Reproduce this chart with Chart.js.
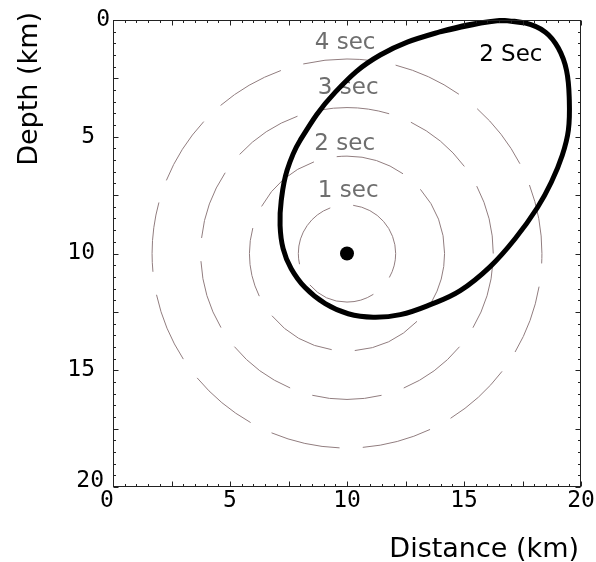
<!DOCTYPE html>
<html lang="en">
<head>
<meta charset="UTF-8">
<title>Travel time circles</title>
<script src="https://cdn.jsdelivr.net/npm/chart.js"></script>
<style>
  body { margin: 0; background: #fff; }
  canvas { display: block; }
</style>
</head>
<body>
<canvas id="myChart" width="596" height="562"></canvas>
<script>
// source location (km)
const sourceX = [10];
const sourceDepth = [10];

// travel time circles around the source, radius in km
const circleRadius = [2.08, 4.17, 6.25, 8.33];
const circleLabel = ['1 sec', '2 sec', '3 sec', '4 sec'];
const circleLabelX = [10.05, 9.9, 10.05, 9.92];
const circleLabelDepth = [7.32, 5.3, 2.92, 1.0];

// 2 second contour, traced clockwise from the top
const contourX = [16.42, 17.62, 18.48, 19.03, 19.38, 19.50, 19.46, 19.20, 18.73, 18.14, 17.19, 16.12, 14.84, 13.56,
                  12.28, 11.12, 10.05, 9.07, 8.21, 7.61, 7.27, 7.14, 7.19, 7.44, 8.00, 9.50, 11.42, 13.99];
const contourDepth = [0.03, 0.13, 0.52, 1.20, 2.15, 3.43, 4.72, 5.79, 6.95, 8.03, 9.36, 10.56, 11.59, 12.19,
                      12.62, 12.73, 12.58, 12.15, 11.46, 10.64, 9.79, 8.80, 7.73, 6.44, 5.15, 3.09, 1.50, 0.50];
const contourLabel = ['2 Sec'];
const contourLabelX = [17.0];
const contourLabelDepth = [1.5];

// axis ticks
const xTicks = [0, 5, 10, 15, 20];
const yTicks = [0, 5, 10, 15, 20];
const xTitle = 'Distance (km)';
const yTitle = 'Depth (km)';

// closed curve: wrap the ends so the spline joins smoothly
function closedLoop(xs, ys) {
    const pts = xs.map((v, i) => ({ x: v, y: ys[i] }));
    const n = pts.length;
    return [pts[n - 1], ...pts, pts[0], pts[1]];
}

const MONO = '23px "DejaVu Sans Mono"';
const SANS = '"DejaVu Sans"';

const axesPlugin = {
    id: 'axesPlugin',
    beforeDatasetsDraw(chart) {
        const { ctx, scales: { x, y } } = chart;
        const cx = x.getPixelForValue(sourceX[0]);
        const cy = y.getPixelForValue(sourceDepth[0]);
        const kx = x.getPixelForValue(1) - x.getPixelForValue(0);
        const ky = y.getPixelForValue(1) - y.getPixelForValue(0);

        ctx.save();
        // dashed circles
        ctx.strokeStyle = 'rgb(145,125,127)';
        ctx.lineWidth = 1;
        ctx.setLineDash([70, 23.3]);
        circleRadius.forEach(r => {
            ctx.beginPath();
            ctx.ellipse(cx, cy, r * kx, r * ky, 0, 0, -2 * Math.PI, true);
            ctx.stroke();
        });
        ctx.setLineDash([]);

        // circle labels
        ctx.font = '23px ' + SANS;
        ctx.fillStyle = '#6e6e6e';
        ctx.textAlign = 'center';
        ctx.textBaseline = 'middle';
        circleLabel.forEach((t, i) => {
            ctx.fillText(t, x.getPixelForValue(circleLabelX[i]), y.getPixelForValue(circleLabelDepth[i]));
        });
        ctx.fillStyle = '#000';
        contourLabel.forEach((t, i) => {
            ctx.fillText(t, x.getPixelForValue(contourLabelX[i]), y.getPixelForValue(contourLabelDepth[i]));
        });
        ctx.restore();
    },
    afterDraw(chart) {
        const { ctx, chartArea: a, scales: { x, y } } = chart;
        const L = Math.round(a.left) + 0.5, R = Math.round(a.right) - 0.5;
        const T = Math.round(a.top) + 0.5, B = Math.round(a.bottom) - 0.5;

        ctx.save();
        ctx.strokeStyle = '#222';
        ctx.lineWidth = 1;
        ctx.strokeRect(L, T, R - L, B - T);

        // inward ticks on all four sides, every 0.5 km, longer every 2.5 km
        ctx.beginPath();
        for (let v = 0; v <= 20; v += 0.5) {
            const len = (v % 2.5 === 0) ? 5 : 2.5;
            const px = Math.round(x.getPixelForValue(v)) + 0.5;
            const py = Math.round(y.getPixelForValue(v)) + 0.5;
            ctx.moveTo(px, B); ctx.lineTo(px, B - len);
            ctx.moveTo(px, T); ctx.lineTo(px, T + len);
            ctx.moveTo(L, py); ctx.lineTo(L + len, py);
            ctx.moveTo(R, py); ctx.lineTo(R - len, py);
        }
        ctx.stroke();

        // tick labels
        ctx.fillStyle = '#000';
        ctx.font = MONO;
        ctx.textBaseline = 'middle';
        ctx.textAlign = 'right';
        yTicks.forEach(v => {
            let px = a.left - 18, py = y.getPixelForValue(v);
            if (v === 0) px = a.left - 3;
            if (v === 20) { px = a.left - 9; py -= 6; }
            ctx.fillText(String(v), px, py);
        });
        ctx.textAlign = 'center';
        xTicks.forEach(v => {
            let px = x.getPixelForValue(v);
            if (v === 0) px -= 6;
            ctx.fillText(String(v), px, a.bottom + 14);
        });

        // axis titles
        ctx.font = '27px ' + SANS;
        ctx.textBaseline = 'alphabetic';
        ctx.textAlign = 'right';
        ctx.fillText(xTitle, a.right - 2, a.bottom + 70);
        ctx.translate(37, a.top - 8);
        ctx.rotate(-Math.PI / 2);
        ctx.fillText(yTitle, 0, 0);
        ctx.restore();
    }
};

const ctx = document.getElementById('myChart').getContext('2d');
const myChart = new Chart(ctx, {
    type: 'scatter',
    data: {
        datasets: [
            {
                label: '2 Sec',
                data: closedLoop(contourX, contourDepth),
                showLine: true,
                tension: 0.4,
                borderColor: '#000',
                borderWidth: 5,
                pointRadius: 0,
                fill: false,
                clip: false
            },
            {
                label: 'Source',
                data: sourceX.map((v, i) => ({ x: v, y: sourceDepth[i] })),
                pointRadius: 7,
                pointBackgroundColor: '#000',
                pointBorderWidth: 0,
                clip: false
            }
        ]
    },
    options: {
        responsive: false,
        animation: false,
        layout: { padding: { left: 113, top: 20, right: 15, bottom: 75 } },
        plugins: { legend: { display: false }, tooltip: { enabled: false } },
        scales: {
            x: { type: 'linear', min: 0, max: 20, display: false },
            y: { type: 'linear', min: 0, max: 20, reverse: true, display: false }
        }
    },
    plugins: [axesPlugin]
});
</script>
</body>
</html>
